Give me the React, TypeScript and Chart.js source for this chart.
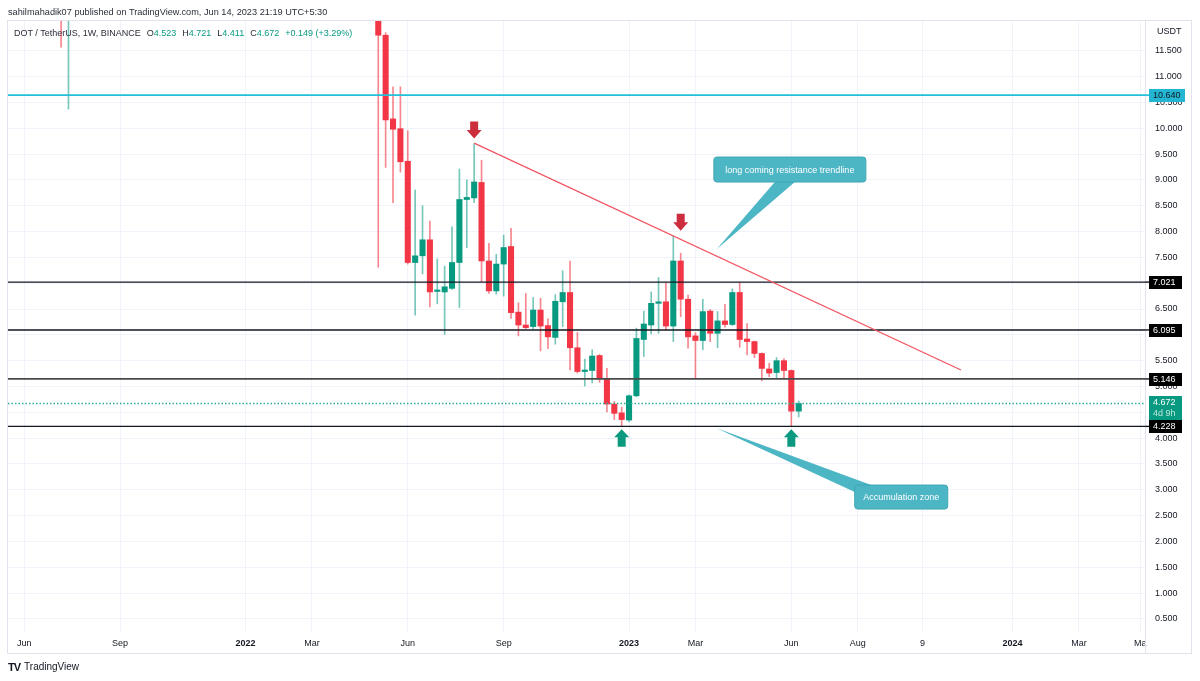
import React, { useEffect, useRef } from "react";
import { Chart, registerables } from "chart.js";

Chart.register(...registerables);

const FONT = '"Liberation Sans", Arial, sans-serif';

// week index relative to the weekly bar of 2 Jan 2023
const weeks = [-77, -76, -34, -33, -32, -31, -30, -29, -28, -27, -26, -25, -24, -23, -22, -21, -20, -19, -18, -17, -16, -15, -14, -13, -12, -11, -10, -9, -8, -7, -6, -5, -4, -3, -2, -1, 0, 1, 2, 3, 4, 5, 6, 7, 8, 9, 10, 11, 12, 13, 14, 15, 16, 17, 18, 19, 20, 21, 22, 23];
const opens = [15.0, 12.3, 12.6, 11.8, 10.18, 9.99, 9.36, 7.4, 7.53, 7.84, 6.84, 6.83, 6.9, 7.4, 8.62, 8.65, 8.95, 7.43, 6.85, 7.37, 7.71, 6.44, 6.19, 6.16, 6.48, 6.18, 5.95, 6.64, 6.82, 5.75, 5.29, 5.31, 5.6, 5.14, 4.66, 4.49, 4.35, 4.82, 5.91, 6.19, 6.61, 6.64, 6.17, 7.43, 6.69, 5.98, 5.89, 6.46, 6.03, 6.27, 6.2, 6.82, 5.92, 5.87, 5.64, 5.34, 5.27, 5.5, 5.31, 4.523];
const highs = [15.5, 14.1, 13.0, 11.85, 10.8, 10.8, 9.95, 8.8, 8.5, 8.2, 7.47, 7.33, 8.09, 9.21, 9.0, 9.7, 9.38, 7.77, 7.56, 7.93, 8.06, 6.62, 6.8, 6.72, 6.71, 6.31, 6.78, 7.24, 7.43, 6.05, 5.53, 5.71, 5.62, 5.35, 4.71, 4.6, 4.84, 6.13, 6.46, 6.83, 7.11, 7.01, 7.91, 7.58, 6.77, 6.04, 6.69, 6.49, 6.45, 6.59, 6.89, 7.01, 6.22, 5.88, 5.65, 5.45, 5.56, 5.54, 5.32, 4.721];
const lows = [11.57, 10.37, 7.31, 9.24, 8.56, 9.15, 7.37, 6.38, 7.18, 6.54, 6.6, 6.01, 6.88, 6.53, 7.69, 8.56, 7.03, 6.8, 6.79, 6.75, 6.32, 5.98, 6.12, 6.11, 5.69, 5.73, 5.82, 6.16, 5.32, 5.26, 5.01, 5.07, 5.08, 4.51, 4.36, 4.235, 4.32, 4.8, 5.58, 6.02, 6.03, 6.09, 5.87, 6.35, 5.74, 5.16, 5.71, 5.87, 5.75, 6.15, 6.18, 5.76, 5.61, 5.56, 5.11, 5.19, 5.16, 5.16, 4.228, 4.411];
const closes = [12.4, 13.4, 11.8, 10.16, 9.98, 9.35, 7.4, 7.53, 7.84, 6.83, 6.86, 6.93, 7.4, 8.62, 8.66, 8.96, 7.43, 6.85, 7.37, 7.69, 6.43, 6.19, 6.14, 6.48, 6.17, 5.96, 6.65, 6.82, 5.75, 5.29, 5.31, 5.59, 5.15, 4.66, 4.48, 4.36, 4.82, 5.93, 6.21, 6.61, 6.63, 6.17, 7.43, 6.69, 5.96, 5.89, 6.45, 6.03, 6.27, 6.2, 6.82, 5.91, 5.87, 5.64, 5.35, 5.26, 5.5, 5.31, 4.523, 4.672];

const yTickValues = [0.5, 1, 1.5, 2, 2.5, 3, 3.5, 4, 4.5, 5, 5.5, 6, 6.5, 7, 7.5, 8, 8.5, 9, 9.5, 10, 10.5, 11, 11.5];
const xTickWeeks = [-82, -69, -52, -43, -30, -17, 0, 9, 22, 31, 39.8, 52, 61, 69.3];
const xTickLabels = ["Jun", "Sep", "2022", "Mar", "Jun", "Sep", "2023", "Mar", "Jun", "Aug", "9", "2024", "Mar", "Ma"];
const yearTicks = [-52, 0, 52];

const levelValues = [7.021, 6.095, 5.146, 4.228];
const levelLabels = ["7.021", "6.095", "5.146", "4.228"];
const highlightLevel = 10.64;
const highlightLabel = "10.640";
const lastPrice = 4.672;
const lastPriceLabel = "4.672";
const countdownLabel = "4d 9h";

const trendStart = { w: -21, v: 9.71 };
const trendEnd = { w: 45, v: 5.32 };
const downArrows = [{ w: -21, v: 9.8 }, { w: 7, v: 8.016 }];
const upArrows = [{ w: -1, v: 4.171 }, { w: 22, v: 4.171 }];

const calloutTexts = ["long coming resistance trendline", "Accumulation zone"];
const calloutCenters = [{ w: 21.8, v: 9.2 }, { w: 36.9, v: 2.86 }];
const calloutTips = [{ w: 11.9, v: 7.66 }, { w: 11.8, v: 4.196 }];

const UP = "#089981";
const DOWN = "#f23645";
const UP_WICK = "rgba(8,153,129,0.55)";
const DOWN_WICK = "rgba(242,54,69,0.6)";
const CALLOUT = "#4db6c4";
const CYAN = "#22c0d8";

function hline(ctx: CanvasRenderingContext2D, x0: number, x1: number, y: number, color: string, width: number, dash: number[] = []) {
  ctx.save();
  ctx.strokeStyle = color;
  ctx.lineWidth = width;
  ctx.setLineDash(dash);
  ctx.beginPath();
  ctx.moveTo(x0, y);
  ctx.lineTo(x1, y);
  ctx.stroke();
  ctx.restore();
}

function rrect(ctx: CanvasRenderingContext2D, x: number, y: number, w: number, h: number, r: number) {
  ctx.beginPath();
  ctx.moveTo(x + r, y);
  ctx.lineTo(x + w - r, y);
  ctx.quadraticCurveTo(x + w, y, x + w, y + r);
  ctx.lineTo(x + w, y + h - r);
  ctx.quadraticCurveTo(x + w, y + h, x + w - r, y + h);
  ctx.lineTo(x + r, y + h);
  ctx.quadraticCurveTo(x, y + h, x, y + h - r);
  ctx.lineTo(x, y + r);
  ctx.quadraticCurveTo(x, y, x + r, y);
  ctx.closePath();
}

const overlayPlugin = {
  id: "overlay",
  afterDatasetsDraw(chart: any) {
    const { ctx, chartArea: a } = chart;
    const xs = chart.scales.x;
    const ys = chart.scales.y;
    const px = (w: number) => xs.getPixelForValue(w);
    const py = (v: number) => ys.getPixelForValue(v);
    ctx.save();
    ctx.beginPath();
    ctx.rect(a.left, a.top, a.right - a.left, a.bottom - a.top);
    ctx.clip();

    hline(ctx, a.left, a.right, py(highlightLevel), CYAN, 1.6);
    hline(ctx, a.left, a.right, py(lastPrice), "#2fae96", 1.4, [1.5, 2]);
    levelValues.forEach((v, i) => {
      hline(ctx, a.left, a.right, py(v), i === 2 ? "#4a4a4a" : "#131722", i === 2 ? 1.7 : 1.4);
    });

    // trendline
    ctx.strokeStyle = "#f25562";
    ctx.lineWidth = 1.3;
    ctx.beginPath();
    ctx.moveTo(px(trendStart.w), py(trendStart.v));
    ctx.lineTo(px(trendEnd.w), py(trendEnd.v));
    ctx.stroke();

    // down arrows
    ctx.fillStyle = "#cc2e3d";
    downArrows.forEach((p) => {
      const x = px(p.w);
      const tip = py(p.v);
      ctx.beginPath();
      ctx.moveTo(x, tip);
      ctx.lineTo(x - 7.5, tip - 8.5);
      ctx.lineTo(x - 4, tip - 8.5);
      ctx.lineTo(x - 4, tip - 17);
      ctx.lineTo(x + 4, tip - 17);
      ctx.lineTo(x + 4, tip - 8.5);
      ctx.lineTo(x + 7.5, tip - 8.5);
      ctx.closePath();
      ctx.fill();
    });
    // up arrows
    ctx.fillStyle = "#0b9a7f";
    upArrows.forEach((p) => {
      const x = px(p.w);
      const tip = py(p.v);
      ctx.beginPath();
      ctx.moveTo(x, tip);
      ctx.lineTo(x + 7.5, tip + 8);
      ctx.lineTo(x + 4, tip + 8);
      ctx.lineTo(x + 4, tip + 17.5);
      ctx.lineTo(x - 4, tip + 17.5);
      ctx.lineTo(x - 4, tip + 8);
      ctx.lineTo(x - 7.5, tip + 8);
      ctx.closePath();
      ctx.fill();
    });

    // callouts
    const boxes = [
      { w: 152, h: 25, b1: [-15, 12.5], b2: [5, 12.5] },
      { w: 93, h: 24, b1: [-46.5, -5], b2: [-30, -12] },
    ];
    calloutTexts.forEach((t, i) => {
      const cx = px(calloutCenters[i].w);
      const cy = py(calloutCenters[i].v);
      const tx = px(calloutTips[i].w);
      const ty = py(calloutTips[i].v);
      const b = boxes[i];
      ctx.fillStyle = CALLOUT;
      ctx.beginPath();
      ctx.moveTo(tx, ty);
      ctx.lineTo(cx + b.b1[0], cy + b.b1[1]);
      ctx.lineTo(cx + b.b2[0], cy + b.b2[1]);
      ctx.closePath();
      ctx.fill();
      rrect(ctx, cx - b.w / 2, cy - b.h / 2, b.w, b.h, 3);
      ctx.fill();
      ctx.strokeStyle = "#3fa7b5";
      ctx.lineWidth = 1;
      ctx.stroke();
      ctx.fillStyle = "#ffffff";
      ctx.font = `9px ${FONT}`;
      ctx.textAlign = "center";
      ctx.textBaseline = "middle";
      ctx.fillText(t, cx, cy + 0.5);
    });
    ctx.restore();
  },
  afterDraw(chart: any) {
    const { ctx, chartArea: a } = chart;
    const ys = chart.scales.y;
    const py = (v: number) => ys.getPixelForValue(v);
    ctx.save();
    // frame
    ctx.strokeStyle = "#e0e3eb";
    ctx.lineWidth = 1;
    ctx.strokeRect(7.5, 20.5, 1184, 633);
    ctx.beginPath();
    ctx.moveTo(Math.round(a.right) + 0.5, 20.5);
    ctx.lineTo(Math.round(a.right) + 0.5, 653.5);
    ctx.stroke();

    ctx.font = `9px ${FONT}`;
    ctx.textBaseline = "middle";
    ctx.textAlign = "left";
    ctx.fillStyle = "#131722";
    ctx.fillText("USDT", 1157, 31.5);

    const x0 = a.right + 4;
    const drawBox = (v: number, label: string, bg: string, fg: string, w: number, lineColor: string, lw: number) => {
      const y = py(v);
      hline(ctx, a.right, x0, y, lineColor, lw);
      ctx.fillStyle = bg;
      ctx.fillRect(x0, Math.round(y) - 6, w, 13);
      ctx.fillStyle = fg;
      ctx.font = `9px ${FONT}`;
      ctx.fillText(label, x0 + 4, Math.round(y) + 0.5);
    };
    drawBox(highlightLevel, highlightLabel, "#22b6d2", "#131722", 36, CYAN, 1.6);
    levelValues.forEach((v, i) => drawBox(v, levelLabels[i], "#000000", "#ffffff", 33, "#131722", 1.4));

    const ly = py(lastPrice);
    ctx.fillStyle = UP;
    ctx.fillRect(x0, Math.round(ly) - 7, 33, 24);
    ctx.fillStyle = "#ffffff";
    ctx.fillText(lastPriceLabel, x0 + 4, Math.round(ly) - 0.5);
    ctx.fillStyle = "#bfe6dd";
    ctx.fillText(countdownLabel, x0 + 4, Math.round(ly) + 10.5);
    ctx.restore();
  },
};

export default function App() {
  const ref = useRef<HTMLCanvasElement>(null);
  useEffect(() => {
    const canvas = ref.current;
    if (!canvas) return;
    const isUp = (i: number) => closes[i] >= opens[i];
    const chart = new Chart(canvas, {
      type: "bar",
      data: {
        datasets: [
          {
            label: "wick",
            data: weeks.map((w, i) => ({ x: w, y: [lows[i], highs[i]] })) as any,
            backgroundColor: weeks.map((_, i) => (isUp(i) ? UP_WICK : DOWN_WICK)),
            barThickness: 1,
            grouped: false,
            clip: 0 as any,
            order: 2,
          } as any,
          {
            label: "body",
            data: weeks.map((w, i) => ({ x: w, y: [opens[i], closes[i]] })) as any,
            backgroundColor: weeks.map((_, i) => (isUp(i) ? UP : DOWN)),
            barThickness: 5.4,
            minBarLength: 1.5,
            grouped: false,
            clip: 0 as any,
            order: 1,
          } as any,
        ],
      },
      options: {
        responsive: false,
        animation: false,
        events: [],
        layout: { padding: { left: 8, top: 21, right: 8, bottom: 28 } },
        plugins: { legend: { display: false }, tooltip: { enabled: false } },
        scales: {
          x: {
            type: "linear",
            min: -84.2,
            max: 69.95,
            offset: false,
            grid: { color: "#f0f3fa", drawTicks: false, offset: false },
            border: { display: false },
            ticks: {
              autoSkip: false,
              maxRotation: 0,
              padding: 6,
              color: "#131722",
              font: (c: any) => ({ family: FONT, size: 9, weight: c.tick && yearTicks.includes(c.tick.value) ? "bold" : "normal" }),
              callback: (_v: any, i: number) => xTickLabels[i] ?? "",
            },
            afterBuildTicks: (s: any) => {
              s.ticks = xTickWeeks.map((v) => ({ value: v }));
            },
            afterFit: (s: any) => {
              s.height = 21;
            },
          } as any,
          y: {
            type: "linear",
            position: "right",
            min: 0.248,
            max: 12.075,
            grid: { color: "#f0f3fa", drawTicks: false },
            border: { display: false },
            ticks: {
              padding: 10,
              color: "#131722",
              font: { family: FONT, size: 9 },
              callback: (v: any) => Number(v).toFixed(3),
            },
            afterBuildTicks: (s: any) => {
              s.ticks = yTickValues.map((v) => ({ value: v }));
            },
            afterFit: (s: any) => {
              s.width = 47;
            },
          } as any,
        },
      },
      plugins: [overlayPlugin],
    });
    return () => chart.destroy();
  }, []);

  const green = { color: UP };
  return (
    <div style={{ position: "fixed", left: 0, top: 0, width: 1200, height: 681, background: "#ffffff", overflow: "hidden", fontFamily: FONT }}>
      <canvas ref={ref} width={1200} height={681} style={{ position: "absolute", left: 0, top: 0, width: 1200, height: 681 }} />
      <div style={{ position: "absolute", left: 8, top: 6, fontSize: 9.2, lineHeight: "12px", color: "#2a2e39", whiteSpace: "nowrap" }}>
        sahilmahadik07 published on TradingView.com, Jun 14, 2023 21:19 UTC+5:30
      </div>
      <div style={{ position: "absolute", left: 14, top: 27, fontSize: 9, lineHeight: "12px", color: "#2a2e39", whiteSpace: "nowrap" }}>
        <span>DOT / TetherUS, 1W, BINANCE</span>
        <span style={{ marginLeft: 6 }}>O</span><span style={green}>4.523</span>
        <span style={{ marginLeft: 6 }}>H</span><span style={green}>4.721</span>
        <span style={{ marginLeft: 6 }}>L</span><span style={green}>4.411</span>
        <span style={{ marginLeft: 6 }}>C</span><span style={green}>4.672</span>
        <span style={{ marginLeft: 6, ...green }}>+0.149 (+3.29%)</span>
      </div>
      <div style={{ position: "absolute", left: 8, top: 661, fontSize: 10, lineHeight: "12px", color: "#131722", whiteSpace: "nowrap", display: "flex", alignItems: "center" }}>
        <span style={{ fontWeight: 900, fontSize: 11, letterSpacing: -1, marginRight: 4 }}>TV</span>
        <span>TradingView</span>
      </div>
    </div>
  );
}
